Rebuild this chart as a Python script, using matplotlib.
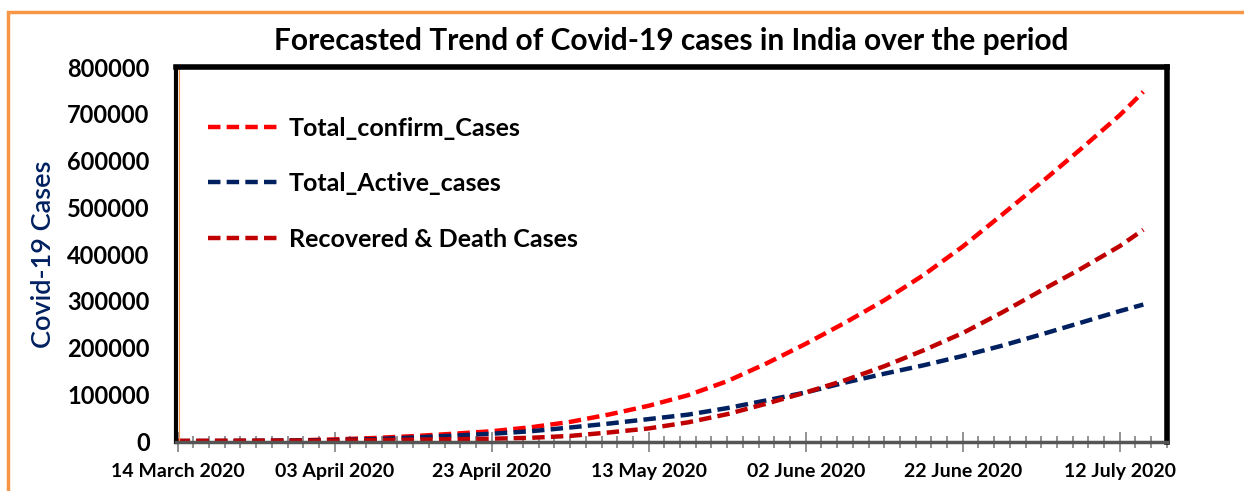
import matplotlib.pyplot as plt
from matplotlib.patches import Rectangle

# days since 14 March 2020
days = [0, 5, 10, 15, 20, 25, 30, 35, 40, 45, 50, 55, 60, 65, 70, 75, 80,
        85, 90, 95, 100, 105, 110, 115, 120, 123]

confirm_cases = [100, 300, 700, 1500, 3500, 6500, 10500, 15500, 21000, 29500,
                 41000, 57000, 75500, 98000, 128000, 166000, 208000, 253000,
                 301000, 355000, 416000, 484000, 553000, 624000, 697000, 747000]
active_cases = [100, 200, 500, 1000, 2000, 4000, 7500, 11500, 15600, 21000,
                29000, 37500, 47000, 56500, 70500, 87000, 104000, 125000,
                144000, 162000, 182000, 204000, 228000, 253000, 278000, 292000]
recovered_death = [0, 100, 200, 500, 1000, 2000, 3000, 4000, 5000, 7000,
                   11000, 18500, 27000, 40000, 57500, 80000, 104000, 130000,
                   160000, 194000, 231000, 275000, 322000, 368000, 417000, 452000]

tick_days = [0, 20, 40, 60, 80, 100, 120]
tick_labels = ["14 March 2020", "03 April 2020", "23 April 2020", "13 May 2020",
               "02 June 2020", "22 June 2020", "12 July 2020"]
y_ticks = [0, 100000, 200000, 300000, 400000, 500000, 600000, 700000, 800000]

plt.rcParams['font.family'] = ['Lato', 'DejaVu Sans']

fig = plt.figure(figsize=(12.44, 4.91), dpi=100)
ax = fig.add_axes([0.1415, 0.0998, 0.7965, 0.7637])

# orange frame around the picture
fig.patches.append(Rectangle((8 / 1244, -0.2), 1.2, 1.2 - 12 / 491,
                             transform=fig.transFigure, fill=False,
                             edgecolor='#F79646', linewidth=2.5))

dash = (0, (2.8, 1.4))
ax.plot(days, confirm_cases, color='#FF0000', lw=3.2, linestyle=dash,
        label="Total_confirm_Cases")
ax.plot(days, active_cases, color='#002060', lw=3.2, linestyle=dash,
        label="Total_Active_cases")
ax.plot(days, recovered_death, color='#C00000', lw=3.2, linestyle=dash,
        label="Recovered & Death Cases")

ax.set_xlim(-0.2, 126)
ax.set_ylim(-2000, 800000)
ax.set_yticks(y_ticks)
ax.set_yticklabels([str(v) for v in y_ticks], fontsize=17, fontweight='bold')
ax.tick_params(axis='y', length=0, pad=19)

ax.set_xticks(tick_days)
ax.set_xticklabels(tick_labels, fontsize=14, fontweight='bold')
ax.set_xticks(list(range(0, 127, 2)), minor=True)
ax.tick_params(axis='x', which='major', direction='inout', length=14,
               color='#808080', width=1.2, pad=8)
ax.tick_params(axis='x', which='minor', direction='inout', length=9,
               color='#808080', width=1.2)

for side in ['top', 'right']:
    ax.spines[side].set_linewidth(4)
    ax.spines[side].set_color('black')
ax.spines['left'].set_linewidth(3)
ax.spines['bottom'].set_linewidth(2.5)
ax.spines['bottom'].set_color('#555555')
ax.plot([0.003, 0.003], [0, 1], transform=ax.transAxes, color='#F79646', lw=0.8)

ax.set_ylabel("Covid-19 Cases", fontsize=19.5, color='#002060', labelpad=8,
              fontweight='semibold')
ax.set_title("Forecasted Trend of Covid-19 cases in India over the period",
             fontsize=21.5, fontweight='bold', pad=12)

leg = ax.legend(loc='upper left', bbox_to_anchor=(0.032, 0.868), frameon=False,
                fontsize=18, handlelength=2.95, handletextpad=0.3,
                labelspacing=1.3, borderpad=0, borderaxespad=0)
for t in leg.get_texts():
    t.set_fontweight('bold')

plt.savefig("out.png", dpi=100)
